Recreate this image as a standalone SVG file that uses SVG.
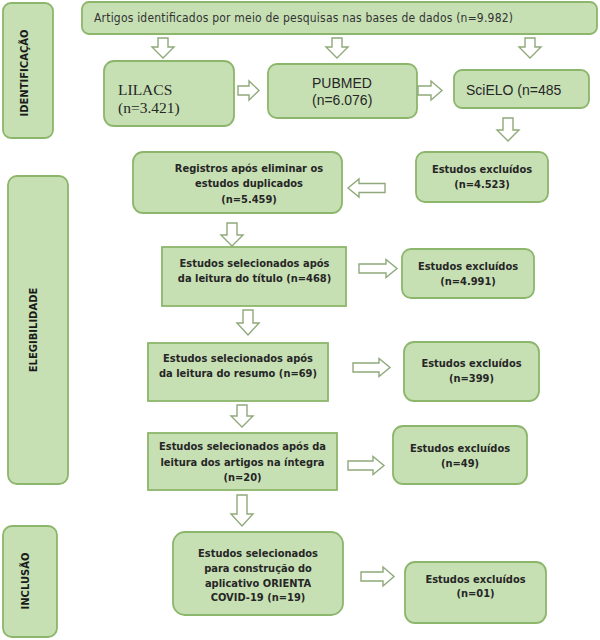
<svg xmlns="http://www.w3.org/2000/svg" width="600" height="640" viewBox="0 0 600 640">
<style>
.box{fill:#c6e0b4;stroke:#8cb66b;stroke-width:1.8}
.arr{fill:#ffffff;stroke:#8fa97a;stroke-width:1.4;stroke-linejoin:miter}
.t{font-family:"DejaVu Sans Condensed","DejaVu Sans",sans-serif;font-weight:bold;font-size:11px;fill:#262626;text-anchor:middle}
.top{font-family:"DejaVu Sans Condensed","DejaVu Sans",sans-serif;font-size:12px;fill:#333333}
.side{font-family:"DejaVu Sans",sans-serif;font-weight:bold;font-size:10px;fill:#1a1a1a;text-anchor:middle}
.serif{font-family:"Liberation Serif",serif;font-size:15.5px;fill:#262626}
.sans{font-family:"Liberation Sans",Arial,sans-serif;font-size:14px;fill:#262626}
</style>
<rect width="600" height="640" fill="#ffffff"/>

<g id="phase-identificacao">
<rect class="box" x="3" y="3" width="50" height="135" rx="8"/>
<text class="side" transform="translate(24,73) rotate(-90)" dy="3.5">IDENTIFICAÇÃO</text>
</g>
<g id="phase-elegibilidade">
<rect class="box" x="8" y="176" width="60" height="308" rx="9"/>
<text class="side" transform="translate(33,330) rotate(-90)" dy="3.5">ELEGIBILIDADE</text>
</g>
<g id="phase-inclusao">
<rect class="box" x="3" y="526" width="54" height="111" rx="9"/>
<text class="side" transform="translate(25,581) rotate(-90)" dy="3.5">INCLUSÃO</text>
</g>

<g id="node-total">
<rect class="box" x="82" y="2" width="515" height="32" rx="7"/>
<text class="top" x="94" y="22" textLength="419">Artigos identificados por meio de pesquisas nas bases de dados (n=9.982)</text>
</g>
<g id="node-lilacs">
<rect class="box" x="104" y="61" width="130" height="65" rx="10"/>
<text class="serif" x="118" y="95">LILACS</text>
<text class="serif" x="118" y="113">(n=3.421)</text>
</g>
<g id="node-pubmed">
<rect class="box" x="268" y="64" width="149" height="54" rx="9"/>
<text class="sans" x="312" y="88">PUBMED</text>
<text class="sans" x="312" y="105">(n=6.076)</text>
</g>
<g id="node-scielo">
<rect class="box" x="454" y="70" width="135" height="38" rx="8"/>
<text class="sans" x="466" y="95">SciELO (n=485</text>
</g>
<g id="node-excl-4523">
<rect class="box" x="416" y="152" width="132" height="50" rx="9"/>
<text class="t" x="482" y="173">Estudos excluídos</text>
<text class="t" x="482" y="188">(n=4.523)</text>
</g>
<g id="node-registros">
<rect class="box" x="133" y="152" width="209" height="61" rx="10"/>
<text class="t" x="249" y="172">Registros após eliminar os</text>
<text class="t" x="249" y="187">estudos duplicados</text>
<text class="t" x="249" y="203">(n=5.459)</text>
</g>
<g id="node-titulo">
<rect class="box" x="162" y="247" width="184" height="59"/>
<text class="t" x="254.5" y="267">Estudos selecionados após</text>
<text class="t" x="254.5" y="282">da leitura do título (n=468)</text>
</g>
<g id="node-excl-4991">
<rect class="box" x="402" y="249" width="132" height="49" rx="9"/>
<text class="t" x="468" y="270">Estudos excluídos</text>
<text class="t" x="468" y="285">(n=4.991)</text>
</g>
<g id="node-resumo">
<rect class="box" x="148" y="343" width="180" height="58"/>
<text class="t" x="238" y="362">Estudos selecionados após</text>
<text class="t" x="238" y="377">da leitura do resumo (n=69)</text>
</g>
<g id="node-excl-399">
<rect class="box" x="404" y="342" width="135" height="59" rx="10"/>
<text class="t" x="471.5" y="367">Estudos excluídos</text>
<text class="t" x="471.5" y="382">(n=399)</text>
</g>
<g id="node-integra">
<rect class="box" x="148" y="433" width="189" height="57"/>
<text class="t" x="242.5" y="450">Estudos selecionados após da</text>
<text class="t" x="242.5" y="466">leitura dos artigos na íntegra</text>
<text class="t" x="242.5" y="481">(n=20)</text>
</g>
<g id="node-excl-49">
<rect class="box" x="393" y="426" width="134" height="58" rx="10"/>
<text class="t" x="460" y="452">Estudos excluídos</text>
<text class="t" x="460" y="467">(n=49)</text>
</g>
<g id="node-final">
<rect class="box" x="173" y="532" width="170" height="83" rx="12"/>
<text class="t" x="258" y="557">Estudos selecionados</text>
<text class="t" x="258" y="572">para construção do</text>
<text class="t" x="258" y="587">aplicativo ORIENTA</text>
<text class="t" x="258" y="601">COVID-19 (n=19)</text>
</g>
<g id="node-excl-01">
<rect class="box" x="405" y="562" width="141" height="61" rx="10"/>
<text class="t" x="475.5" y="583">Estudos excluídos</text>
<text class="t" x="475.5" y="597">(n=01)</text>
</g>

<g id="connectors">
<!-- down arrows from top box -->
<path class="arr" d="M158,38 H168 V47 H174 L163,58 L152,47 H158 Z"/>
<path class="arr" d="M332,38 H342 V47 H348 L337,58 L326,47 H332 Z"/>
<path class="arr" d="M525,38 H535 V47 H541 L530,58 L519,47 H525 Z"/>
<!-- right arrows in database row -->
<path class="arr" d="M238,86 H249 V81 L259,90.5 L249,100 V95 H238 Z"/>
<path class="arr" d="M418,86 H431 V81 L442,90.5 L431,100 V95 H418 Z"/>
<!-- scielo down -->
<path class="arr" d="M503,118 H513 V130 H519 L508,141 L497,130 H503 Z"/>
<!-- left arrow to registros -->
<path class="arr" d="M385,183.5 H359 V179 L348,188 L359,197 V192.5 H385 Z"/>
<!-- registros down -->
<path class="arr" d="M227,223 H237 V235 H243 L232,246 L221,235 H227 Z"/>
<!-- titulo right -->
<path class="arr" d="M359,264 H386 V259.5 L397,268.5 L386,277.5 V273 H359 Z"/>
<!-- titulo down -->
<path class="arr" d="M243,310 H253 V323 H259 L248,335 L237,323 H243 Z"/>
<!-- resumo right -->
<path class="arr" d="M353,363 H379 V358.5 L390,367.5 L379,376.5 V372 H353 Z"/>
<!-- resumo down -->
<path class="arr" d="M237,405 H247 V416 H253 L242,427 L231,416 H237 Z"/>
<!-- integra right -->
<path class="arr" d="M348,461 H373 V456.5 L384,465.5 L373,474.5 V470 H348 Z"/>
<!-- integra down -->
<path class="arr" d="M237,495 H247 V514 H253 L242,526 L231,514 H237 Z"/>
<!-- final right -->
<path class="arr" d="M361,572 H383 V567 L394,576.5 L383,586 V581 H361 Z"/>
</g>
</svg>
